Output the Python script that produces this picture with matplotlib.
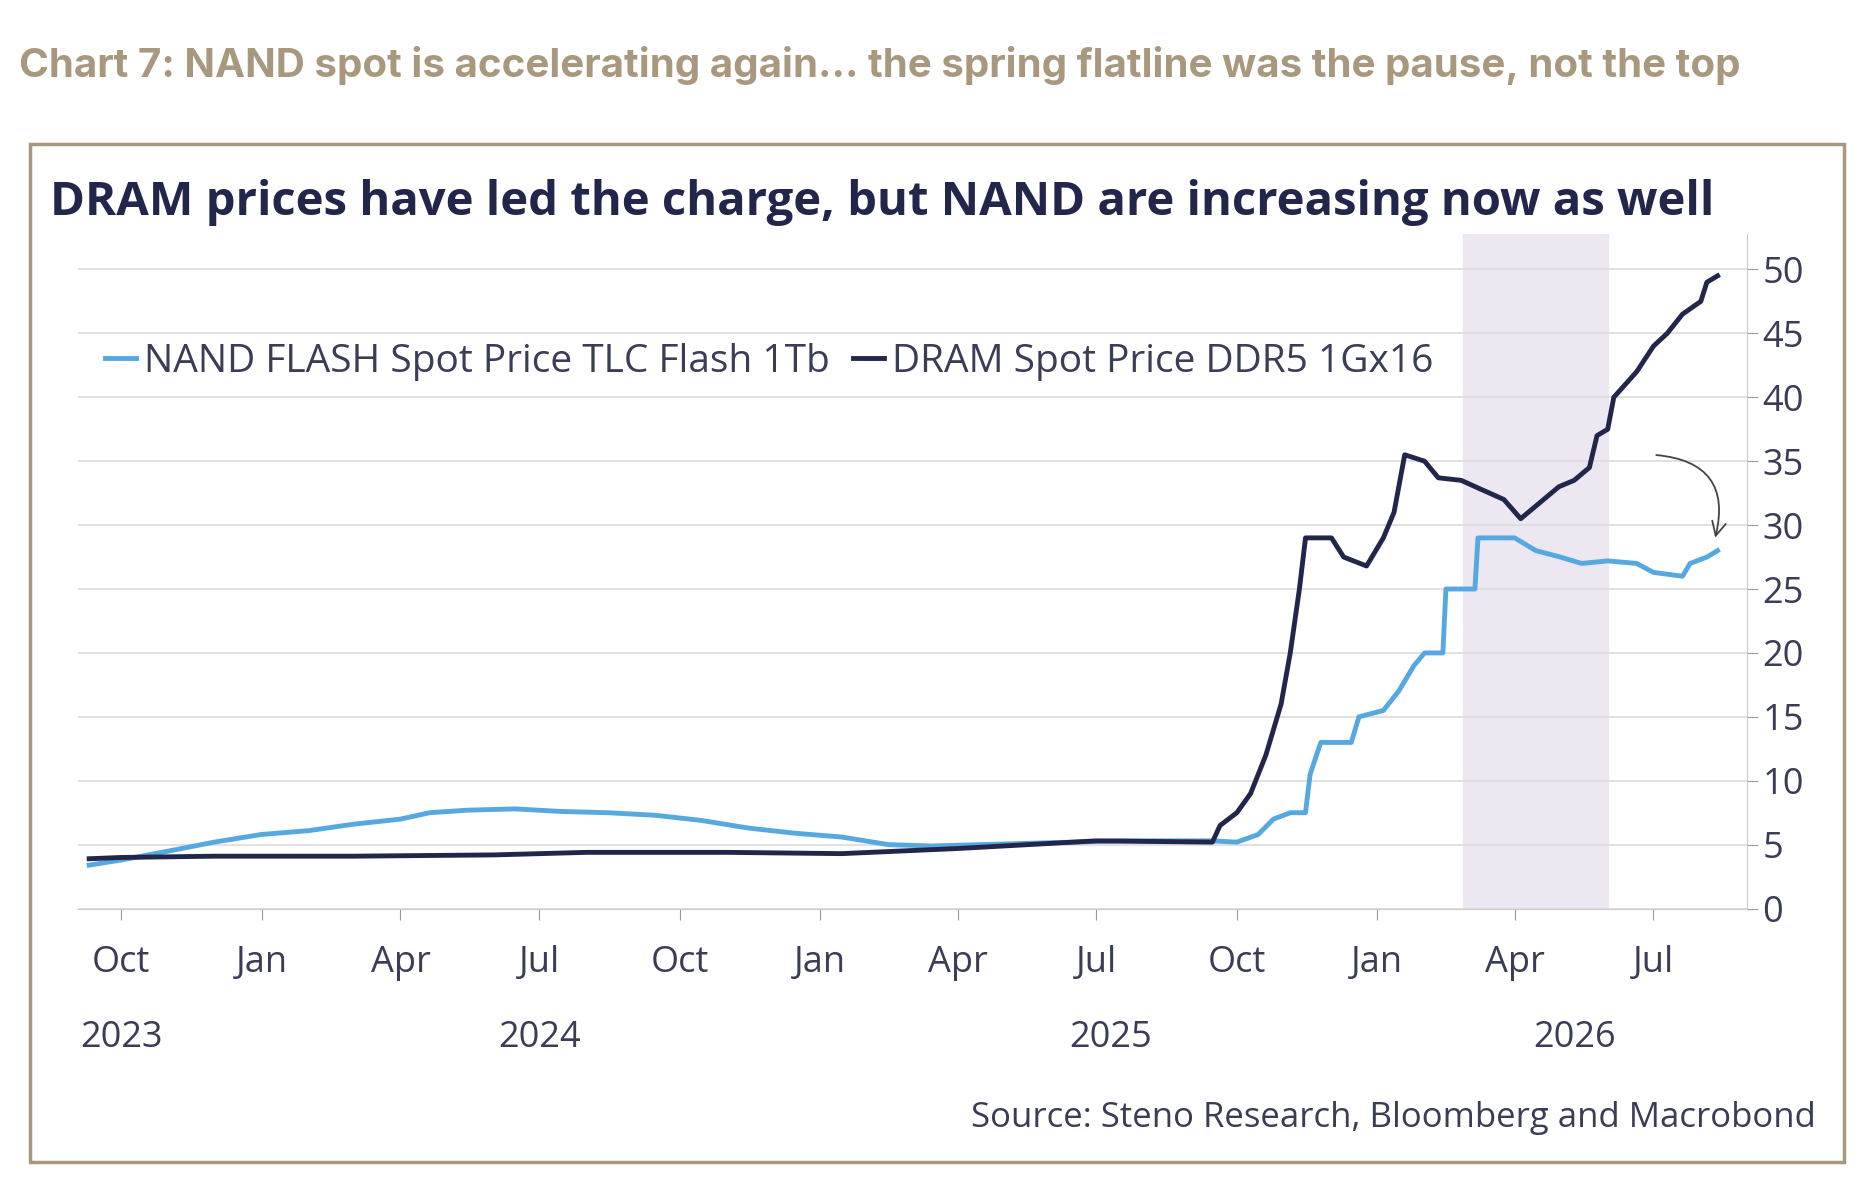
import matplotlib.pyplot as plt
import matplotlib.dates as mdates
import pandas as pd
from matplotlib.patches import Rectangle

plt.rcParams['font.family'] = ['Open Sans', 'DejaVu Sans']

dram_dates = ['2023-09-10', '2023-10-01', '2023-12-01', '2024-03-01', '2024-06-01', '2024-08-01',
              '2024-11-01', '2025-01-15', '2025-04-01', '2025-07-01', '2025-09-15', '2025-09-20',
              '2025-10-01', '2025-10-10', '2025-10-20', '2025-10-30', '2025-11-05', '2025-11-11',
              '2025-11-15', '2025-12-02', '2025-12-10', '2025-12-25', '2026-01-05', '2026-01-12',
              '2026-01-19', '2026-02-01', '2026-02-10', '2026-02-25', '2026-03-10', '2026-03-25',
              '2026-04-05', '2026-04-15', '2026-04-30', '2026-05-10', '2026-05-20', '2026-05-25',
              '2026-06-01', '2026-06-05', '2026-06-20', '2026-07-01', '2026-07-10', '2026-07-20',
              '2026-08-01', '2026-08-05', '2026-08-12']
dram_vals = [3.9, 4.0, 4.1, 4.1, 4.2, 4.4, 4.4, 4.3, 4.7, 5.3, 5.2, 6.5,
             7.5, 9.0, 12.0, 16.0, 20.0, 25.0, 29.0, 29.0, 27.5, 26.8, 29.0, 31.0,
             35.5, 35.0, 33.7, 33.5, 32.8, 32.0, 30.5, 31.5, 33.0, 33.5, 34.5, 37.0,
             37.5, 40.0, 42.0, 44.0, 45.0, 46.5, 47.5, 49.0, 49.5]

nand_dates = ['2023-09-10', '2023-10-01', '2023-11-01', '2023-12-01', '2024-01-01', '2024-02-01',
              '2024-03-01', '2024-04-01', '2024-04-20', '2024-05-15', '2024-06-15', '2024-07-15',
              '2024-08-15', '2024-09-15', '2024-10-15', '2024-11-15', '2024-12-15', '2025-01-15',
              '2025-02-15', '2025-03-15', '2025-04-15', '2025-05-15', '2025-06-15', '2025-07-15',
              '2025-08-15', '2025-09-15', '2025-10-01', '2025-10-15', '2025-10-25', '2025-11-05',
              '2025-11-15', '2025-11-18', '2025-11-25', '2025-12-15', '2025-12-20', '2026-01-05',
              '2026-01-15', '2026-01-25', '2026-02-01', '2026-02-13', '2026-02-15', '2026-03-06',
              '2026-03-08', '2026-04-01', '2026-04-15', '2026-05-01', '2026-05-15', '2026-06-01',
              '2026-06-20', '2026-07-01', '2026-07-20', '2026-07-25', '2026-08-05', '2026-08-12']
nand_vals = [3.4, 3.8, 4.5, 5.2, 5.8, 6.1, 6.6, 7.0, 7.5, 7.7, 7.8, 7.6,
             7.5, 7.3, 6.9, 6.3, 5.9, 5.6, 5.0, 4.9, 5.0, 5.1, 5.2, 5.3,
             5.3, 5.3, 5.2, 5.8, 7.0, 7.5, 7.5, 10.5, 13.0, 13.0, 15.0, 15.5,
             17.0, 19.0, 20.0, 20.0, 25.0, 25.0, 29.0, 29.0, 28.0, 27.5, 27.0, 27.2,
             27.0, 26.3, 26.0, 27.0, 27.5, 28.0]

tan = '#a8997e'
navy = '#22264a'
light = '#56a8e0'

fig = plt.figure(figsize=(18.68, 11.8), dpi=100)
fig.text(0.01, 0.935, 'Chart 7: NAND spot is accelerating again… the spring flatline was the pause, not the top',
         color=tan, fontsize=29, fontweight='bold', family=['Inter', 'DejaVu Sans'])
fig.patches.append(Rectangle((0.016, 0.015), 0.971, 0.863, transform=fig.transFigure,
                             fill=False, edgecolor=tan, linewidth=2.5))
fig.text(0.027, 0.818, 'DRAM prices have led the charge, but NAND are increasing now as well',
         color=navy, fontsize=34, fontweight='bold')
fig.text(0.972, 0.045, 'Source: Steno Research, Bloomberg and Macrobond',
         color='#3a3d55', fontsize=25, ha='right')

ax = fig.add_axes([0.042, 0.23, 0.893, 0.572])
ax.axvspan(pd.Timestamp('2026-02-26'), pd.Timestamp('2026-06-01'), color='#ece7f1', zorder=0)
ax.plot(pd.to_datetime(nand_dates), nand_vals, color=light, lw=3.5, label='NAND FLASH Spot Price TLC Flash 1Tb')
ax.plot(pd.to_datetime(dram_dates), dram_vals, color=navy, lw=3.5, label='DRAM Spot Price DDR5 1Gx16')

ax.set_xlim(pd.Timestamp('2023-09-03'), pd.Timestamp('2026-08-31'))
ax.set_ylim(0, 52.8)
ax.yaxis.tick_right()
ax.set_yticks(range(0, 51, 5))
ax.grid(axis='y', color='#dcdcdc', lw=1.2)
for s in ['top', 'left']:
    ax.spines[s].set_visible(False)
ax.spines['right'].set_color('#cccccc')
ax.spines['bottom'].set_color('#cccccc')
ax.xaxis.set_major_locator(mdates.MonthLocator(bymonth=[1, 4, 7, 10]))
ax.xaxis.set_major_formatter(mdates.DateFormatter('%b'))
ax.tick_params(axis='both', labelsize=26, colors='#3a3d55', length=8, color='#999999')
ax.tick_params(axis='x', pad=18)

for yr, d in [('2023', '2023-10-01'), ('2024', '2024-07-01'), ('2025', '2025-07-10'), ('2026', '2026-05-10')]:
    ax.text(pd.Timestamp(d), -0.165, yr, transform=ax.get_xaxis_transform(), ha='center', va='top',
            fontsize=26, color='#3a3d55')

ax.legend(loc='upper left', bbox_to_anchor=(-0.005, 0.89), frameon=False, fontsize=28, ncol=2,
          handlelength=0.8, handletextpad=0.2, columnspacing=0.6, labelcolor='#3a3d55')

ax.annotate('', xy=(pd.Timestamp('2026-08-10'), 28.8), xytext=(pd.Timestamp('2026-07-01'), 35.5),
            arrowprops=dict(arrowstyle='->', color='#444444', lw=1.3,
                            connectionstyle='arc3,rad=-0.6', mutation_scale=25))

plt.savefig('out.png', dpi=100)
